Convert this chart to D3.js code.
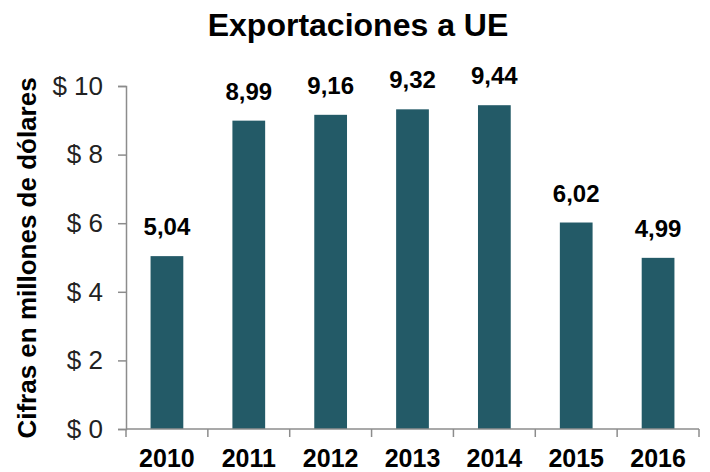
<!DOCTYPE html>
<html>
<head>
<meta charset="utf-8">
<script src="https://cdn.jsdelivr.net/npm/d3@7"></script>
<style>
  body { margin: 0; background: #fff; }
  text { font-family: "Liberation Sans", Arial, sans-serif; }
</style>
</head>
<body>
<svg width="710" height="472"></svg>
<script>
var years = ['2010', '2011', '2012', '2013', '2014', '2015', '2016'];
var values = [5.04, 8.99, 9.16, 9.32, 9.44, 6.02, 4.99];
var yTicks = [0, 2, 4, 6, 8, 10];

var svg = d3.select('svg');

var margin = {left: 126, right: 11, top: 86, bottom: 43};
var width = 710,
    height = 472;

var x = d3.scaleBand()
    .domain(years)
    .range([margin.left, width - margin.right])
    .paddingInner(0.6)
    .paddingOuter(0.3);

var y = d3.scaleLinear()
    .domain([0, 10])
    .range([height - margin.bottom, margin.top]);

var axisColor = '#8c8c8c';

// title
svg.append('text')
    .attr('x', 358)
    .attr('y', 36)
    .attr('text-anchor', 'middle')
    .style('font-size', '32px')
    .style('font-weight', 'bold')
    .text('Exportaciones a UE');

// y axis title
svg.append('text')
    .attr('transform', 'translate(36,' + 258 + ') rotate(-90)')
    .attr('text-anchor', 'middle')
    .style('font-size', '26px')
    .style('font-weight', 'bold')
    .text('Cifras en millones de dólares');

// bars
svg.selectAll('rect.bar')
    .data(values)
  .enter().append('rect')
    .attr('class', 'bar')
    .attr('x', function(d, i) { return x(years[i]); })
    .attr('y', function(d) { return y(d); })
    .attr('width', x.bandwidth())
    .attr('height', function(d) { return y(0) - y(d); })
    .attr('fill', '#235a67');

// value labels
svg.selectAll('text.val')
    .data(values)
  .enter().append('text')
    .attr('class', 'val')
    .attr('x', function(d, i) { return x(years[i]) + x.bandwidth() / 2; })
    .attr('y', function(d) { return y(d) - 21; })
    .attr('text-anchor', 'middle')
    .style('font-size', '24px')
    .style('font-weight', 'bold')
    .text(function(d) { return d.toFixed(2).replace('.', ','); });

// y axis
var yAxis = svg.append('g')
    .attr('transform', 'translate(' + margin.left + ',0)')
    .call(d3.axisLeft(y).tickValues(yTicks).tickSize(8).tickPadding(15)
      .tickFormat(function(d) { return '$ ' + d; }));

yAxis.selectAll('line, path').attr('stroke', axisColor).attr('stroke-width', 1.5);
yAxis.selectAll('text')
    .style('font-size', '26px')
    .style('font-family', '"Liberation Sans", Arial, sans-serif')
    .attr('fill', '#222');

// x axis with boundary ticks
var xAxisG = svg.append('g')
    .attr('transform', 'translate(0,' + y(0) + ')');

xAxisG.append('line')
    .attr('x1', margin.left)
    .attr('x2', width - margin.right)
    .attr('stroke', axisColor)
    .attr('stroke-width', 1.5);

var step = x.step();
var bounds = years.map(function(d) { return x(d) - (step - x.bandwidth()) / 2; });
bounds.push(width - margin.right);

xAxisG.selectAll('line.tick')
    .data(bounds)
  .enter().append('line')
    .attr('class', 'tick')
    .attr('x1', function(d) { return d; })
    .attr('x2', function(d) { return d; })
    .attr('y1', 0)
    .attr('y2', 8)
    .attr('stroke', axisColor)
    .attr('stroke-width', 1.5);

xAxisG.selectAll('text')
    .data(years)
  .enter().append('text')
    .attr('x', function(d) { return x(d) + x.bandwidth() / 2; })
    .attr('y', 38)
    .attr('text-anchor', 'middle')
    .style('font-size', '25px')
    .style('font-weight', 'bold')
    .text(function(d) { return d; });
</script>
</body>
</html>
